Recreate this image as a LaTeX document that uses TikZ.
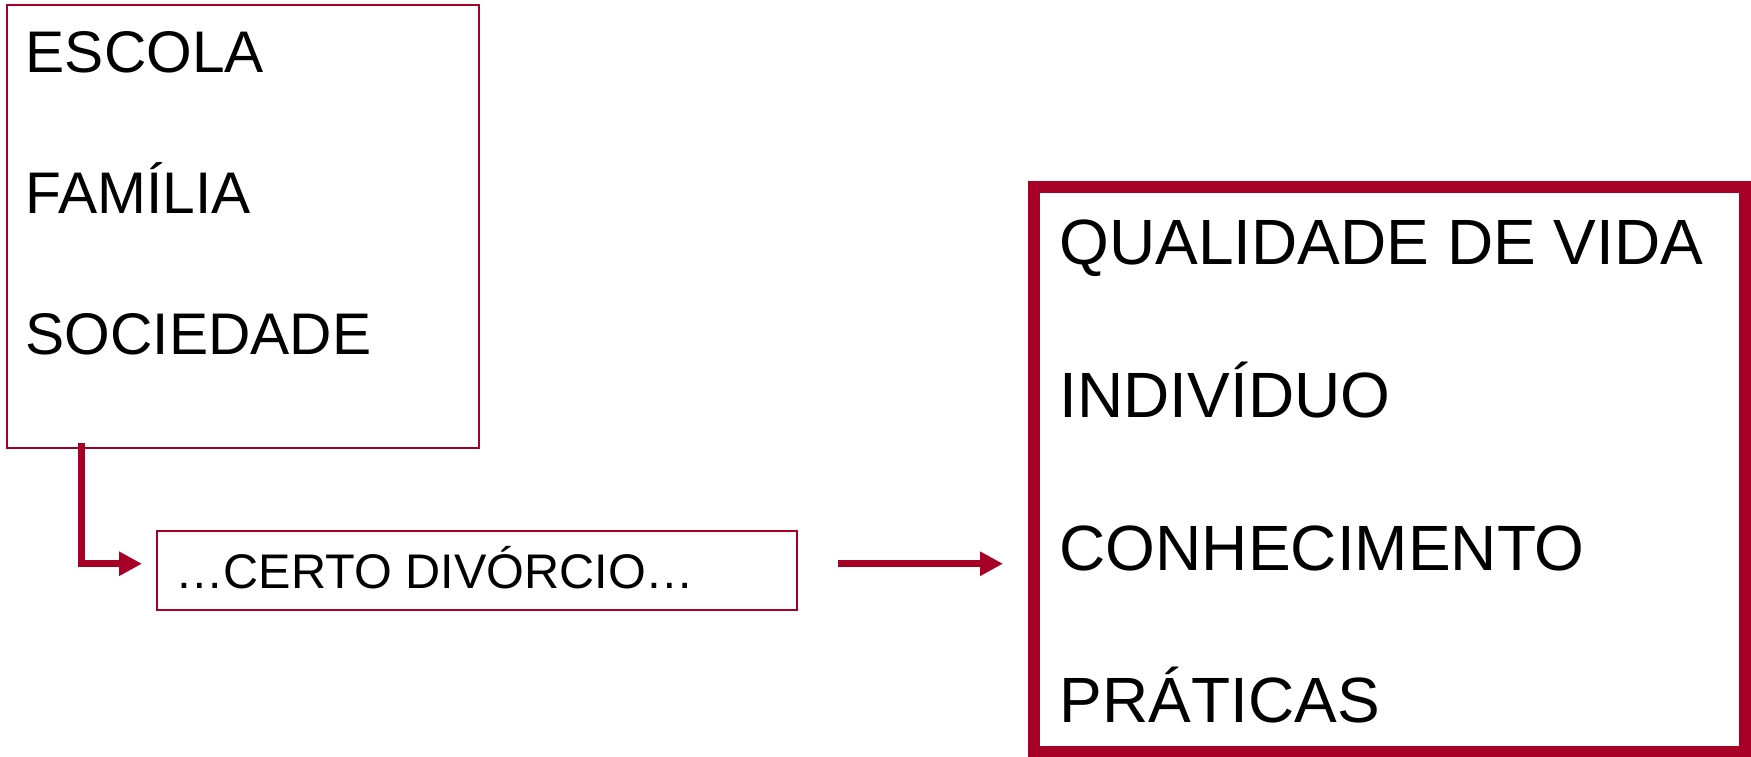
\documentclass[tikz,border=0pt]{standalone}
\usepackage{fontspec}
\setmainfont{Liberation Sans}
\usepackage{xcolor}
\usepackage{tikz}
\usetikzlibrary{arrows.meta}
\usetikzlibrary{calc}
\definecolor{bordo}{RGB}{166,0,38}

\begin{document}
\begin{tikzpicture}[x=1pt,y=-1pt,
	caixa/.style={draw=bordo,line width=2pt,outer sep=0pt,inner sep=0pt},
	caixagrossa/.style={draw=bordo,line width=11.5pt,outer sep=0pt,inner sep=0pt},
	texto/.style={anchor=base west,inner sep=0pt,font=\fontsize{58.7}{70}\selectfont},
	textogrande/.style={anchor=base west,inner sep=0pt,font=\fontsize{64}{77}\selectfont},
	textopequeno/.style={anchor=base west,inner sep=0pt,font=\fontsize{48.6}{58}\selectfont},
	seta/.style={draw=bordo,line width=7pt,-{Triangle[length=23pt,width=23pt]}}]
		\useasboundingbox (0,0) rectangle (1751,757);

		% caixa da esquerda
		\node[caixa,minimum width=472.5pt,minimum height=442.5pt] (fontes) at (242.75,226.75) {};
		\node[texto] (escola) at (25.5,73) {ESCOLA};
		\node[texto] (familia) at (25.5,213) {FAMÍLIA};
		\node[texto] (sociedade) at (25.5,354) {SOCIEDADE};

		% caixa do meio
		\node[caixa,minimum width=640pt,minimum height=79.5pt] (divorcio) at (477,570.25) {};
		\node[textopequeno] (certo) at (175,588) {…CERTO DIVÓRCIO…};

		% caixa da direita
		\node[caixagrossa,minimum width=711pt,minimum height=565pt] (resultado) at (1389.5,469.5) {};
		\node[textogrande] (qualidade) at (1059.5,264.5) {QUALIDADE DE VIDA};
		\node[textogrande] (individuo) at (1059.5,417) {INDIVÍDUO};
		\node[textogrande] (conhecimento) at (1059.5,570.5) {CONHECIMENTO};
		\node[textogrande] (praticas) at (1059.5,722.7) {PRÁTICAS};

		% setas
		\coordinate (desce) at ([xshift=75pt,yshift=5pt]fontes.south west);
		\draw[seta] (desce) |- ([xshift=-15pt,yshift=6.5pt]divorcio.west);
		\coordinate (saida) at ([xshift=41pt,yshift=6.5pt]divorcio.east);
		\draw[seta,shorten >=31pt] (saida) -- (saida -| resultado.west);
\end{tikzpicture}
\end{document}
